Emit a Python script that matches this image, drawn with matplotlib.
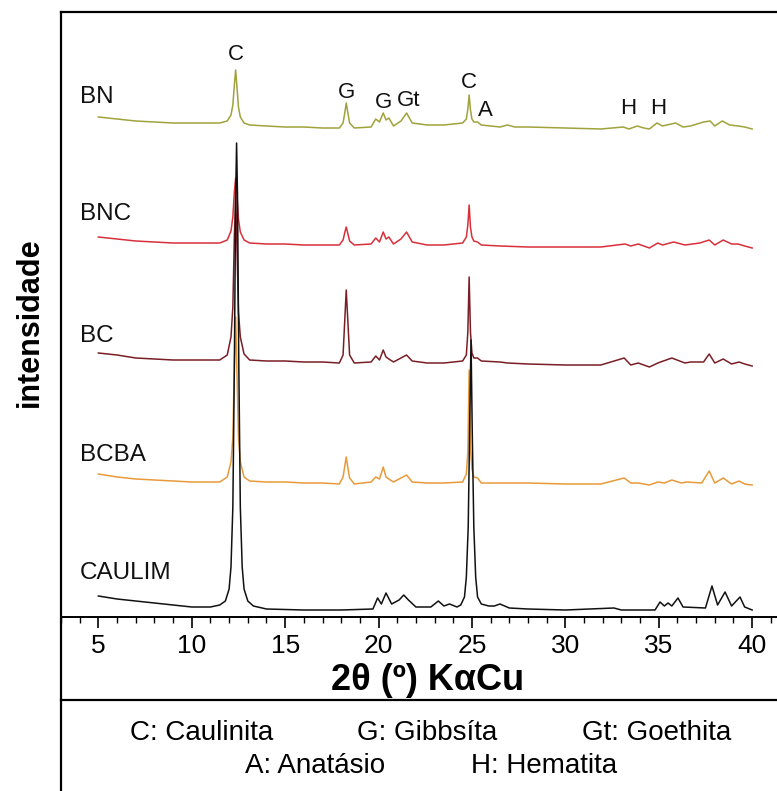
import matplotlib
matplotlib.use("Agg")
import matplotlib.pyplot as plt
from matplotlib.lines import Line2D
from matplotlib.ticker import MultipleLocator

plt.rcParams['font.family'] = ['Liberation Sans', 'DejaVu Sans']

# ---------------- data (2θ in degrees, intensity in arbitrary units, stacked) ----------------
samples = ["BN", "BNC", "BC", "BCBA", "CAULIM"]
colors = ["#a0a23c", "#d8303a", "#7a1e26", "#e89a3a", "#111111"]

common_x = [5.0, 6.0, 7.0, 8.0, 9.0, 10.0, 11.0,
            11.5, 11.9, 12.1, 12.2, 12.28, 12.35, 12.42, 12.5, 12.6, 12.8, 13.1,
            14.0, 15.0, 16.0, 17.0,
            17.9, 18.1, 18.2, 18.27, 18.35, 18.45, 18.7,
            19.6, 19.85, 20.05, 20.25, 20.4, 20.55, 20.8,
            21.2, 21.5, 21.8, 22.6, 23.5,
            24.5, 24.7, 24.78, 24.85, 24.92, 25.0, 25.1, 25.3, 25.5]

bn_x = common_x + [26.5, 26.9, 27.3, 28.0, 30.0, 31.9, 33.1, 33.4, 33.85, 34.2, 34.5, 34.9, 35.2, 35.9,
                   36.3, 36.7, 37.4, 37.75, 38.0, 38.4, 38.8, 39.25, 39.6, 40.0]
bn_y = [500, 498, 496, 495, 494, 494, 494,
        494, 496, 502, 512, 532, 547, 530, 510, 500, 494, 492,
        491, 490, 490, 489,
        489, 494, 505, 514, 505, 494, 489,
        490, 498, 495, 504, 497, 499, 491,
        496, 504, 494, 492, 492,
        494, 498, 508, 522, 507, 498, 495, 495, 492,
        490, 492, 490, 490, 489, 488, 490, 488, 491, 489, 488, 494, 491, 494,
        490, 491, 495, 496, 491, 496, 492, 491, 490, 488]

bnc_x = common_x + [26.5, 28.0, 30.0, 31.9, 33.2, 33.5, 33.9, 34.5, 34.95, 35.2, 35.8, 36.4, 37.2, 37.7,
                    38.0, 38.45, 38.9, 39.25, 39.6, 40.0]
bnc_y = [380, 378, 376, 375, 374, 374, 374,
         374, 377, 386, 400, 425, 439, 422, 398, 385, 377, 374,
         373, 373, 372, 372,
         372, 377, 385, 390, 384, 376, 372,
         373, 379, 375, 385, 378, 380, 373,
         378, 385, 375, 372, 372,
         374, 380, 392, 412, 390, 380, 376, 375, 372,
         371, 370, 370, 370, 373, 371, 373, 369, 374, 372, 375, 372, 374, 377,
         372, 377, 373, 373, 371, 369]

bc_x = common_x + [26.5, 26.9, 28.0, 30.0, 31.9, 33.15, 33.5, 33.9, 34.5, 34.95, 35.7, 36.4, 36.7, 37.4,
                   37.7, 38.0, 38.45, 38.9, 39.3, 39.6, 40.0]
bc_y = [264, 262, 259, 258, 257, 257, 257,
        257, 262, 280, 310, 380, 420, 370, 305, 280, 263, 257,
        256, 256, 255, 255,
        254, 262, 300, 327, 298, 262, 254,
        255, 261, 257, 267, 260, 258, 255,
        259, 262, 256, 254, 254,
        256, 262, 285, 340, 285, 264, 259, 259, 256,
        255, 254, 253, 252, 252, 259, 252, 254, 250, 254, 259, 254, 255, 255,
        263, 254, 258, 253, 255, 253, 251]

bcba_x = common_x + [26.5, 28.0, 30.0, 31.9, 33.15, 33.5, 33.9, 34.5, 34.95, 35.3, 35.7, 36.2, 36.5, 37.3,
                     37.7, 38.0, 38.45, 38.9, 39.3, 39.6, 40.0]
bcba_y = [143, 140, 138, 137, 136, 135, 135,
          135, 140, 155, 180, 250, 300, 245, 180, 155, 140, 136,
          135, 135, 134, 134,
          133, 140, 152, 160, 150, 139, 133,
          135, 140, 138, 150, 140, 138, 135,
          139, 142, 135, 134, 134,
          135, 143, 165, 247, 168, 148, 140, 139, 134,
          134, 134, 133, 133, 139, 134, 134, 132, 135, 134, 137, 134, 135, 134,
          146, 134, 139, 133, 136, 133, 132]

caulim_x = [5.0, 6.0, 7.0, 8.0, 9.0, 10.0, 11.0,
            11.5, 11.8, 12.0, 12.1, 12.2, 12.28, 12.35, 12.4, 12.45, 12.52, 12.6, 12.7, 12.8, 13.0, 13.3,
            14.0, 16.0, 18.0,
            19.7, 19.95, 20.15, 20.4, 20.7, 21.1, 21.35, 21.6,
            22.0, 22.8, 23.2, 23.5, 23.8, 24.2,
            24.4, 24.6, 24.7, 24.8, 24.87, 24.95, 25.02, 25.1, 25.2, 25.3, 25.5,
            25.9, 26.2, 26.5, 27.0, 28.0, 30.0, 32.6, 33.0, 34.8,
            35.07, 35.3, 35.5, 35.7, 36.03, 36.3,
            37.5, 37.85, 38.15, 38.55, 38.9, 39.35, 39.6, 40.0]
caulim_y = [21, 18, 16, 14, 12, 10, 10,
            12, 16, 28, 50, 110, 250, 420, 474, 420, 250, 110, 50, 28, 16, 11,
            8, 7, 7,
            8, 19, 13, 24, 13, 17, 22, 17,
            10, 10, 16, 11, 13, 10,
            12, 20, 40, 90, 180, 277, 180, 90, 40, 20, 13,
            11, 11, 13, 9, 8, 7, 9, 7, 7,
            15, 11, 14, 11, 19, 10,
            9, 31, 12, 25, 11, 20, 10, 7]

series_x = [bn_x, bnc_x, bc_x, bcba_x, caulim_x]
series_y = [bn_y, bnc_y, bc_y, bcba_y, caulim_y]

phase_labels = ["C", "G", "G", "Gt", "C", "A", "H", "H"]
phase_2theta = [12.35, 18.3, 20.25, 21.6, 24.85, 25.7, 33.35, 34.95]
phase_level = [562, 525, 515, 516, 534, 507, 508, 509]

legend_line1 = ["C: Caulinita", "G: Gibbsíta", "Gt: Goethita"]
legend_line2 = ["A: Anatásio", "H: Hematita"]

# ---------------- figure ----------------
W, H = 777, 791
fig = plt.figure(figsize=(W / 100, H / 100), dpi=100)

def fx(px):
    return px / W

def fy(py):
    return 1 - py / H

ax_left, ax_right, ax_top, ax_bot = 61, 789.5, 12, 617
ax = fig.add_axes([fx(ax_left), fy(ax_bot), (ax_right - ax_left) / W, (ax_bot - ax_top) / H])
ax.set_xlim(3, 42)
ax.set_ylim(0, ax_bot - ax_top)

for xs, ys, c in zip(series_x, series_y, colors):
    ax.plot(xs, ys, color=c, lw=1.1, solid_joinstyle='round')

# sample names
name_y = [520, 403, 281, 162, 44]
for name, ny in zip(samples, name_y):
    ax.text(4.0, ny, name, fontsize=17.5, ha='left', va='center', color='#111111')

for lab, tx, ty in zip(phase_labels, phase_2theta, phase_level):
    ax.text(tx, ty, lab, fontsize=16, ha='center', va='center', color='#111111')

for s in ['left', 'right', 'top']:
    ax.spines[s].set_visible(False)
ax.spines['bottom'].set_linewidth(1.4)
ax.set_yticks([])
ax.xaxis.set_major_locator(MultipleLocator(5))
ax.xaxis.set_minor_locator(MultipleLocator(1))
ax.tick_params(axis='x', which='major', direction='out', length=8, width=1.2, labelsize=19, pad=4)
ax.tick_params(axis='x', which='minor', direction='out', length=4.5, width=1.0)
ax.set_xticks([5, 10, 15, 20, 25, 30, 35, 40])
ax.set_xlabel("2θ (º) KαCu", fontsize=26, fontweight='bold')
ax.xaxis.set_label_coords((428 - ax_left) / (ax_right - ax_left), -(680 - ax_bot) / (ax_bot - ax_top))
ax.xaxis.label.set_va('center')

fig.text(fx(30), fy(322), "intensidade", rotation=90, fontsize=22, fontweight='bold',
         ha='center', va='center')

# frame lines
fig.add_artist(Line2D([fx(61), fx(61)], [fy(12), fy(795)], color='black', lw=1.6))
fig.add_artist(Line2D([fx(61), fx(780)], [fy(12), fy(12)], color='black', lw=1.6))
fig.add_artist(Line2D([fx(61), fx(780)], [fy(700), fy(700)], color='black', lw=1.6))

# legend text
for txt, cx in zip(legend_line1, [202, 427, 657]):
    fig.text(fx(cx), fy(733), txt, fontsize=20, ha='center', va='center')
for txt, cx in zip(legend_line2, [315, 544]):
    fig.text(fx(cx), fy(766), txt, fontsize=20, ha='center', va='center')

fig.savefig("out.png", dpi=100)
